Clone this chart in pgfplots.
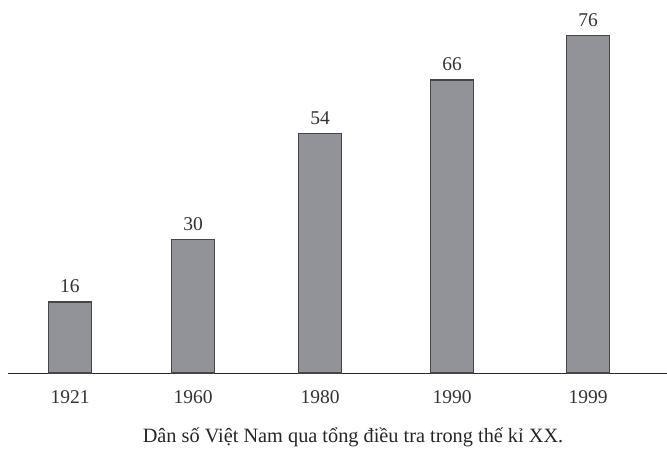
\documentclass[border=0pt]{standalone}
\usepackage{fontspec}
\setmainfont{Liberation Serif}
\usepackage{pgfplots}
\pgfplotsset{compat=1.18}
\definecolor{barfill}{RGB}{146,147,152}
\definecolor{baredge}{RGB}{70,70,72}
\begin{document}
\begin{tikzpicture}
\useasboundingbox (0pt,0pt) rectangle (667pt,451pt);
\begin{axis}[
  at={(8pt,78pt)}, anchor=south west,
  scale only axis,
  x=1pt, y=4.44pt,
  xmin=8, xmax=667, ymin=0, ymax=80,
  axis x line=bottom, axis y line=none,
  x axis line style={-, line width=1pt, black!85},
  xtick={70,193,320,452,588},
  xticklabels={1921,1960,1980,1990,1999},
  major tick length=0pt,
  ytick=\empty,
  /pgf/number format/assume math mode=true,
  ybar, bar width=43pt,
  tick label style={font=\fontsize{19.5}{22}\selectfont, text=black!80},
  xticklabel style={anchor=base, yshift=-30pt},
  nodes near coords,
  every node near coord/.append style={font=\fontsize{19.5}{22}\selectfont, text=black!80, anchor=base, yshift=9pt},
  clip=false,
]
\addplot[fill=barfill, draw=baredge, line width=1.3pt] coordinates {(70,16) (193,30) (320,54) (452,66) (588,76)};
\end{axis}
\node[font=\fontsize{20.3}{22}\selectfont, text=black!85, anchor=base] at (353pt,8.5pt) {Dân số Việt Nam qua tổng điều tra trong thế kỉ XX.};
\end{tikzpicture}
\end{document}
